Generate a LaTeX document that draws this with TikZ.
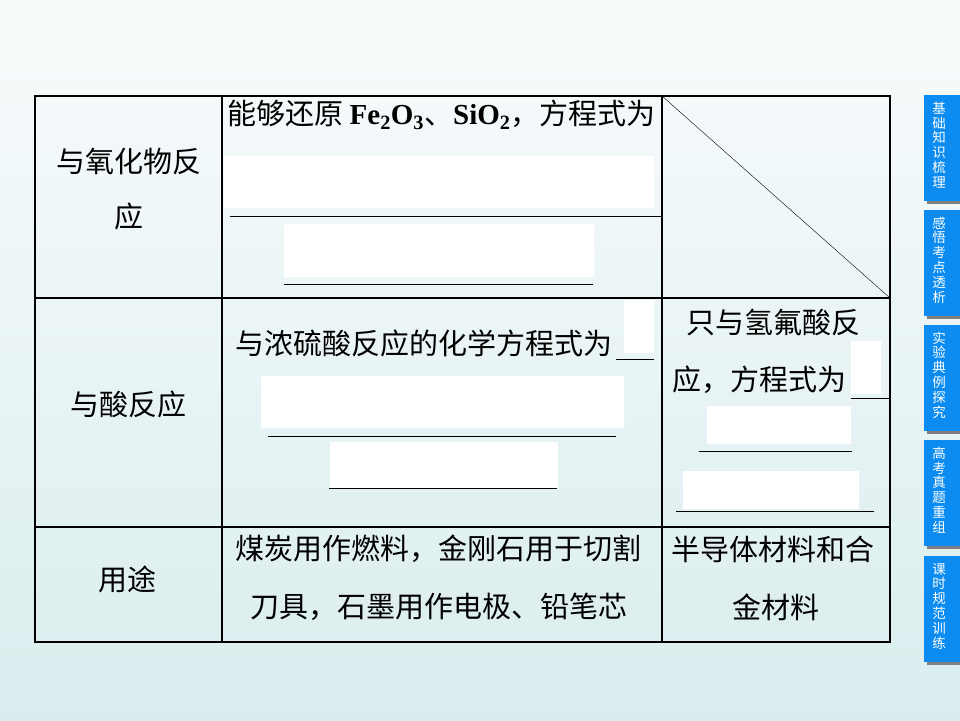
\documentclass[tikz,border=0pt]{standalone}
\usepackage{fontspec}
\setmainfont{Liberation Serif}
\newfontfamily\cjk{Noto Sans CJK SC}
\usetikzlibrary{positioning}
\definecolor{bgtop}{RGB}{248,251,252}
\definecolor{bgbot}{RGB}{218,237,238}
\definecolor{tabblue}{RGB}{12,140,240}
\definecolor{tabshade}{RGB}{128,128,128}
\newcommand\fml[1]{{\rmfamily\bfseries #1}}

\begin{document}
\begin{tikzpicture}[x=1pt,y=-1pt,
    cell/.style={font=\cjk\fontsize{29}{34}\selectfont, inner sep=0pt},
    lcell/.style={cell, anchor=west},
    blank/.style={fill=white},
    rule/.style={line width=1.4pt},
    fillin/.style={line width=1pt},
    tabbox/.style={fill=tabblue},
    tabtxt/.style={text=white, font=\cjk\fontsize{13.5}{14.8}\selectfont, align=center, inner sep=0pt}]
    \useasboundingbox (0,0) rectangle (960,720);
    \shade[top color=bgtop, bottom color=bgbot] (0,0) rectangle (960,720);
    \draw[rule] (35,96) rectangle (890,642);
    \draw[rule] (222,96) -- (222,642) (662,96) -- (662,642)
                (35,298) -- (890,298) (35,527) -- (890,527);
    \draw (662,96) -- (890,298);
    \fill[blank] (224,156) rectangle (654,208) (284,224) rectangle (594,277)
                 (624,300) rectangle (654,353) (261,376) rectangle (624,428)
                 (330,442) rectangle (558,488) (851,341) rectangle (881,394)
                 (707,406) rectangle (851,444) (683,471) rectangle (859,509);
    \draw[fillin] (230,216) -- (662,216) (284,284) -- (593,284)
                  (616,359) -- (654,359) (268,436) -- (616,436) (329,488) -- (557,488)
                  (851,398) -- (889,398) (699,451) -- (852,451) (676,511) -- (874,511);
    \draw (128.5,162) node[cell] (ox1) {与氧化物反}
          node[cell, below=27pt of ox1] (ox2) {应}
          (227,115) node[lcell] (fe) {能够还原 \fml{Fe\textsubscript{2}O\textsubscript{3}}、\fml{SiO\textsubscript{2}}，方程式为}
          (128.5,404) node[cell] (acid) {与酸反应}
          (235,343) node[lcell] (h2so4) {与浓硫酸反应的化学方程式为}
          (686,322) node[lcell] (hf1) {只与氢氟酸反}
          (672,380) node[lcell] (hf2) {应，方程式为}
          (127,579) node[cell] (use) {用途}
          (235,549) node[lcell] (c1) {煤炭用作燃料，金刚石用于切割}
          (250,607) node[lcell] (c2) {刀具，石墨用作电极、铅笔芯}
          (671,549) node[lcell] (si1) {半导体材料和合}
          (732,607) node[lcell] (si2) {金材料};
    \foreach \ty/\lbl in {95/基\\础\\知\\识\\梳\\理, 210/感\\悟\\考\\点\\透\\析,
                          325/实\\验\\典\\例\\探\\究, 440/高\\考\\真\\题\\重\\组,
                          556/课\\时\\规\\范\\训\\练}{
        \fill[tabshade] (927,\ty+3) rectangle (960,\ty+109);
        \fill[tabbox] (924,\ty) rectangle (960,\ty+106);
        \node[tabtxt] (tab\ty) at (939,\ty+50) {\lbl};
    }
\end{tikzpicture}
\end{document}
